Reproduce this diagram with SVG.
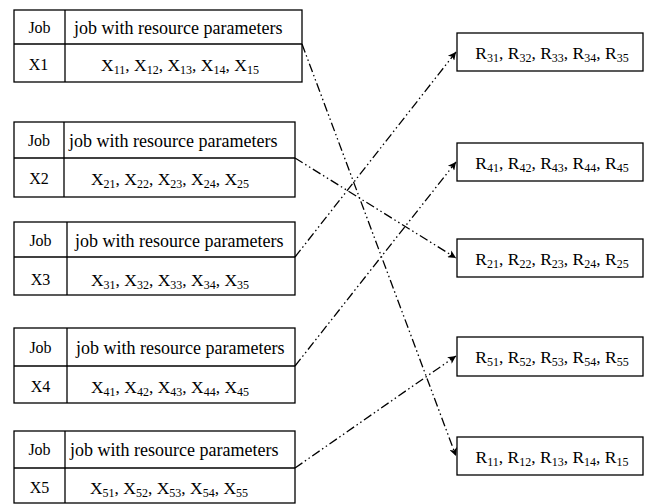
<svg xmlns="http://www.w3.org/2000/svg" width="648" height="504" viewBox="0 0 648 504">
  <style>
    .box { fill: #ffffff; stroke: #000000; stroke-width: 1.3; }
    .div { stroke: #000000; stroke-width: 1.3; fill: none; }
    .t { font-family: "Liberation Serif", "Times New Roman", serif; font-size: 17.5px; fill: #000000; }
    .h { font-size: 18px; }
    .k { font-size: 16px; }
    .sub { font-size: 12px; }
    .link { stroke: #000000; stroke-width: 1.3; fill: none; stroke-dasharray: 9 3 1.5 3 1.5 3; marker-end: url(#arrow); }
  </style>
  <defs>
    <marker id="arrow" viewBox="0 0 10 10" refX="10" refY="5" markerWidth="11" markerHeight="8" markerUnits="userSpaceOnUse" orient="auto">
      <path d="M0,0 L10,5 L0,10 L2.5,5 Z" fill="#000000"/>
    </marker>
  </defs>

  <rect width="648" height="504" fill="#ffffff"/>

  <!-- job tables -->
  <g id="job1">
    <rect class="box" x="14" y="10" width="288" height="72"/>
    <line class="div" x1="14" y1="44" x2="302" y2="44"/>
    <line class="div" x1="65" y1="10" x2="65" y2="82"/>
    <text class="t k" x="39.5" y="33" text-anchor="middle">Job</text>
    <text class="t h" x="74" y="34">job with resource parameters</text>
    <text class="t k" x="38.5" y="70" text-anchor="middle">X1</text>
    <text class="t" x="180" y="71" text-anchor="middle">X<tspan class="sub" dy="3">11</tspan><tspan dy="-3">, X</tspan><tspan class="sub" dy="3">12</tspan><tspan dy="-3">, X</tspan><tspan class="sub" dy="3">13</tspan><tspan dy="-3">, X</tspan><tspan class="sub" dy="3">14</tspan><tspan dy="-3">, X</tspan><tspan class="sub" dy="3">15</tspan></text>
  </g>

  <g id="job2">
    <rect class="box" x="14" y="122" width="281" height="75"/>
    <line class="div" x1="14" y1="158" x2="295" y2="158"/>
    <line class="div" x1="64" y1="122" x2="64" y2="197"/>
    <text class="t k" x="39" y="146" text-anchor="middle">Job</text>
    <text class="t h" x="69" y="147">job with resource parameters</text>
    <text class="t k" x="39" y="184" text-anchor="middle">X2</text>
    <text class="t" x="170" y="185" text-anchor="middle">X<tspan class="sub" dy="3">21</tspan><tspan dy="-3">, X</tspan><tspan class="sub" dy="3">22</tspan><tspan dy="-3">, X</tspan><tspan class="sub" dy="3">23</tspan><tspan dy="-3">, X</tspan><tspan class="sub" dy="3">24</tspan><tspan dy="-3">, X</tspan><tspan class="sub" dy="3">25</tspan></text>
  </g>

  <g id="job3">
    <rect class="box" x="14" y="222" width="281" height="73"/>
    <line class="div" x1="14" y1="257" x2="295" y2="257"/>
    <line class="div" x1="67" y1="222" x2="67" y2="295"/>
    <text class="t k" x="40.5" y="246" text-anchor="middle">Job</text>
    <text class="t h" x="75" y="247">job with resource parameters</text>
    <text class="t k" x="40.5" y="285" text-anchor="middle">X3</text>
    <text class="t" x="170" y="286" text-anchor="middle">X<tspan class="sub" dy="3">31</tspan><tspan dy="-3">, X</tspan><tspan class="sub" dy="3">32</tspan><tspan dy="-3">, X</tspan><tspan class="sub" dy="3">33</tspan><tspan dy="-3">, X</tspan><tspan class="sub" dy="3">34</tspan><tspan dy="-3">, X</tspan><tspan class="sub" dy="3">35</tspan></text>
  </g>

  <g id="job4">
    <rect class="box" x="14" y="328" width="281" height="75"/>
    <line class="div" x1="14" y1="366" x2="295" y2="366"/>
    <line class="div" x1="67" y1="328" x2="67" y2="403"/>
    <text class="t k" x="40.5" y="353" text-anchor="middle">Job</text>
    <text class="t h" x="76" y="354">job with resource parameters</text>
    <text class="t k" x="40.5" y="392" text-anchor="middle">X4</text>
    <text class="t" x="170" y="393" text-anchor="middle">X<tspan class="sub" dy="3">41</tspan><tspan dy="-3">, X</tspan><tspan class="sub" dy="3">42</tspan><tspan dy="-3">, X</tspan><tspan class="sub" dy="3">43</tspan><tspan dy="-3">, X</tspan><tspan class="sub" dy="3">44</tspan><tspan dy="-3">, X</tspan><tspan class="sub" dy="3">45</tspan></text>
  </g>

  <g id="job5">
    <rect class="box" x="14" y="431" width="281" height="72"/>
    <line class="div" x1="14" y1="468" x2="295" y2="468"/>
    <line class="div" x1="65" y1="431" x2="65" y2="503"/>
    <text class="t k" x="39.5" y="455" text-anchor="middle">Job</text>
    <text class="t h" x="70" y="456">job with resource parameters</text>
    <text class="t k" x="39.5" y="493" text-anchor="middle">X5</text>
    <text class="t" x="169" y="494" text-anchor="middle">X<tspan class="sub" dy="3">51</tspan><tspan dy="-3">, X</tspan><tspan class="sub" dy="3">52</tspan><tspan dy="-3">, X</tspan><tspan class="sub" dy="3">53</tspan><tspan dy="-3">, X</tspan><tspan class="sub" dy="3">54</tspan><tspan dy="-3">, X</tspan><tspan class="sub" dy="3">55</tspan></text>
  </g>

  <!-- resource boxes -->
  <g id="res3">
    <rect class="box" x="457" y="33" width="186" height="38"/>
    <text class="t" x="552" y="59" text-anchor="middle">R<tspan class="sub" dy="3">31</tspan><tspan dy="-3">, R</tspan><tspan class="sub" dy="3">32</tspan><tspan dy="-3">, R</tspan><tspan class="sub" dy="3">33</tspan><tspan dy="-3">, R</tspan><tspan class="sub" dy="3">34</tspan><tspan dy="-3">, R</tspan><tspan class="sub" dy="3">35</tspan></text>
  </g>
  <g id="res4">
    <rect class="box" x="457" y="143" width="186" height="38"/>
    <text class="t" x="552" y="169" text-anchor="middle">R<tspan class="sub" dy="3">41</tspan><tspan dy="-3">, R</tspan><tspan class="sub" dy="3">42</tspan><tspan dy="-3">, R</tspan><tspan class="sub" dy="3">43</tspan><tspan dy="-3">, R</tspan><tspan class="sub" dy="3">44</tspan><tspan dy="-3">, R</tspan><tspan class="sub" dy="3">45</tspan></text>
  </g>
  <g id="res2">
    <rect class="box" x="457" y="239" width="186" height="38"/>
    <text class="t" x="552" y="265" text-anchor="middle">R<tspan class="sub" dy="3">21</tspan><tspan dy="-3">, R</tspan><tspan class="sub" dy="3">22</tspan><tspan dy="-3">, R</tspan><tspan class="sub" dy="3">23</tspan><tspan dy="-3">, R</tspan><tspan class="sub" dy="3">24</tspan><tspan dy="-3">, R</tspan><tspan class="sub" dy="3">25</tspan></text>
  </g>
  <g id="res5">
    <rect class="box" x="457" y="337" width="186" height="39"/>
    <text class="t" x="552" y="363" text-anchor="middle">R<tspan class="sub" dy="3">51</tspan><tspan dy="-3">, R</tspan><tspan class="sub" dy="3">52</tspan><tspan dy="-3">, R</tspan><tspan class="sub" dy="3">53</tspan><tspan dy="-3">, R</tspan><tspan class="sub" dy="3">54</tspan><tspan dy="-3">, R</tspan><tspan class="sub" dy="3">55</tspan></text>
  </g>
  <g id="res1">
    <rect class="box" x="457" y="437" width="186" height="38"/>
    <text class="t" x="552" y="463" text-anchor="middle">R<tspan class="sub" dy="3">11</tspan><tspan dy="-3">, R</tspan><tspan class="sub" dy="3">12</tspan><tspan dy="-3">, R</tspan><tspan class="sub" dy="3">13</tspan><tspan dy="-3">, R</tspan><tspan class="sub" dy="3">14</tspan><tspan dy="-3">, R</tspan><tspan class="sub" dy="3">15</tspan></text>
  </g>

  <!-- assignments -->
  <g id="connectors">
    <line class="link" x1="302" y1="44" x2="456" y2="456"/>
    <line class="link" x1="295" y1="158" x2="456" y2="258"/>
    <line class="link" x1="295" y1="257" x2="456" y2="52"/>
    <line class="link" x1="295" y1="366" x2="456" y2="162"/>
    <line class="link" x1="295" y1="468" x2="456" y2="356"/>
  </g>
</svg>
